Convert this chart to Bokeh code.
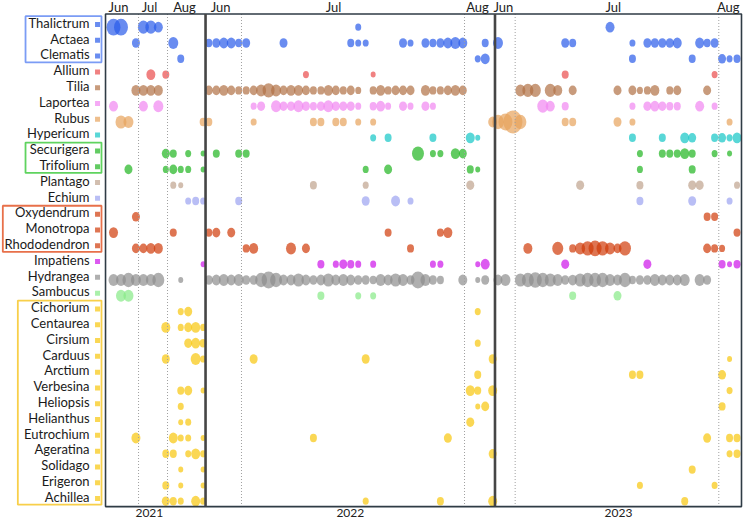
from bokeh.plotting import figure
from bokeh.models import Range1d, ColumnDataSource
from bokeh.core.properties import value
from bokeh.embed import file_html
from bokeh.resources import INLINE

# ---------------------------------------------------------------------------
# Data: pollen genera (top to bottom) and, per season, the sampling slot in
# which each genus was recorded together with its relative abundance.
# ---------------------------------------------------------------------------
genera = ["Thalictrum", "Actaea", "Clematis", "Allium", "Tilia", "Laportea", "Rubus",
          "Hypericum", "Securigera", "Trifolium", "Plantago", "Echium", "Oxydendrum",
          "Monotropa", "Rhododendron", "Impatiens", "Hydrangea", "Sambucus", "Cichorium",
          "Centaurea", "Cirsium", "Carduus", "Arctium", "Verbesina", "Heliopsis",
          "Helianthus", "Eutrochium", "Ageratina", "Solidago", "Erigeron", "Achillea"]

years = ["2021", "2022", "2023"]

obs_2021 = {
    "Thalictrum": ([0, 1, 4, 5, 6], [14, 14, 11, 11, 9]),
    "Actaea": ([3, 8], [8, 10]),
    "Clematis": ([9], [7]),
    "Allium": ([5, 7], [9, 7]),
    "Tilia": ([3, 4, 5, 6], [9, 9, 9, 9]),
    "Laportea": ([0, 4, 6], [9, 9, 10]),
    "Rubus": ([1, 2, 12], [11, 10, 7]),
    "Securigera": ([7, 8, 10, 12], [8, 7, 6, 5]),
    "Trifolium": ([2, 7, 8, 9, 10, 12], [8, 6, 8, 6, 6, 5]),
    "Plantago": ([8, 9], [6, 5]),
    "Echium": ([10, 11, 12], [6, 7, 6]),
    "Oxydendrum": ([3], [8]),
    "Monotropa": ([0, 8], [9, 7]),
    "Rhododendron": ([3, 4, 5, 6], [8, 8, 9, 9]),
    "Impatiens": ([12], [5]),
    "Hydrangea": ([0, 1, 2, 3, 4, 5, 6, 9], [10, 10, 12, 10, 10, 10, 12, 5]),
    "Sambucus": ([1, 2], [10, 10]),
    "Cichorium": ([9, 10], [6, 8]),
    "Centaurea": ([7, 9, 10, 11, 12], [9, 6, 8, 9, 6]),
    "Cirsium": ([10, 11, 12], [8, 9, 7]),
    "Carduus": ([7, 11, 12], [8, 10, 6]),
    "Verbesina": ([9, 10, 12], [7, 8, 5]),
    "Heliopsis": ([9], [6]),
    "Helianthus": ([9, 10], [5, 6]),
    "Eutrochium": ([3, 8, 9, 10, 12], [9, 9, 6, 6, 5]),
    "Ageratina": ([7, 8, 10, 11, 12], [7, 7, 6, 9, 6]),
    "Solidago": ([9, 12], [5, 5]),
    "Erigeron": ([7, 9, 12], [7, 5, 5]),
    "Achillea": ([7, 8, 9, 11, 12], [8, 7, 6, 9, 6]),
}

obs_2022 = {
    "Thalictrum": ([20], [6]),
    "Actaea": ([0, 1, 2, 3, 4, 5, 10, 19, 20, 21, 26, 27, 29, 30, 31, 32, 33, 34, 37],
               [7, 8, 9, 9, 7, 8, 8, 7, 6, 6, 8, 6, 8, 7, 8, 9, 10, 9, 7]),
    "Clematis": ([36, 37], [6, 9]),
    "Allium": ([13, 22], [6, 5]),
    "Tilia": (list(range(0, 21)) + list(range(22, 28)) + list(range(29, 35)),
              [8, 8, 9, 8, 7, 7, 8, 10, 12, 10, 8, 9, 9, 8, 7, 7, 9, 8, 7, 8, 6,
               7, 9, 7, 8, 8, 8,
               9, 7, 7, 8, 9, 8]),
    "Laportea": ([6, 7, 9, 10, 11, 12, 13, 14, 15, 16, 17, 18, 19, 20, 22, 23, 24, 26, 27, 29, 30],
                 [6, 8, 10, 8, 8, 10, 8, 7, 8, 10, 8, 8, 8, 6, 7, 9, 6, 8, 6, 8, 6]),
    "Rubus": ([0, 6, 14, 15, 17, 18, 20, 22, 38], [7, 6, 7, 7, 7, 7, 6, 6, 9]),
    "Hypericum": ([22, 24, 30, 35, 36], [6, 7, 7, 9, 5]),
    "Securigera": ([1, 4, 5, 28, 30, 31, 33, 34], [7, 7, 7, 12, 6, 6, 9, 8]),
    "Trifolium": ([21, 24, 35, 36], [6, 8, 7, 5]),
    "Plantago": ([14, 21, 35], [7, 6, 8]),
    "Echium": ([4, 21, 25, 27], [7, 8, 9, 6]),
    "Monotropa": ([0, 1, 3, 24, 31, 32], [7, 8, 8, 7, 7, 9]),
    "Rhododendron": ([5, 6, 11, 13, 27], [7, 9, 10, 8, 7]),
    "Impatiens": ([15, 17, 18, 19, 20, 22, 30, 31, 36, 37], [7, 6, 8, 7, 6, 6, 6, 6, 5, 9]),
    "Hydrangea": (list(range(0, 32)) + [34, 36, 37],
                  [8, 9, 10, 9, 10, 8, 8, 12, 14, 12, 9, 9, 11, 9, 8, 9, 11, 9, 10, 9,
                   8, 8, 7, 10, 9, 11, 10, 8, 14, 10, 8, 7, 9, 5, 8]),
    "Sambucus": ([15, 20, 22], [7, 6, 6]),
    "Cichorium": ([36], [6]),
    "Cirsium": ([36], [6]),
    "Carduus": ([6, 21, 38], [8, 8, 8]),
    "Arctium": ([36], [7]),
    "Verbesina": ([35, 36, 38], [9, 7, 9]),
    "Heliopsis": ([36, 37], [5, 8]),
    "Helianthus": ([35], [8]),
    "Eutrochium": ([14, 32], [7, 8]),
    "Ageratina": ([38], [8]),
    "Achillea": ([21, 31, 38], [6, 7, 9]),
}

obs_2023 = {
    "Thalictrum": ([15], [9]),
    "Actaea": ([0, 9, 10, 18, 20, 21, 22, 23, 24, 27, 28, 29], [10, 8, 7, 6, 8, 8, 8, 8, 9, 9, 7, 8]),
    "Clematis": ([18, 26, 30, 31, 32], [7, 7, 8, 6, 7]),
    "Allium": ([9, 29], [7, 6]),
    "Tilia": ([3, 4, 5, 7, 8, 10, 16, 18, 19, 20, 21, 23, 24, 28],
              [10, 11, 11, 11, 9, 8, 8, 8, 6, 7, 9, 7, 8, 8]),
    "Laportea": ([6, 7, 9, 18, 20, 21, 22, 23, 24, 27, 29], [11, 9, 7, 6, 8, 9, 8, 7, 7, 9, 6]),
    "Rubus": ([0, 1, 2, 3, 9, 10, 16, 18, 31], [12, 14, 19, 12, 7, 7, 8, 6, 6]),
    "Hypericum": ([18, 22, 25, 26, 29, 30, 31, 32], [7, 7, 9, 8, 7, 8, 6, 9]),
    "Securigera": ([19, 22, 23, 24, 25, 26, 29, 31], [6, 7, 7, 7, 9, 7, 6, 5]),
    "Trifolium": ([19, 26], [6, 7]),
    "Plantago": ([11, 19, 26, 27, 32], [8, 7, 8, 8, 6]),
    "Echium": ([19, 26, 31], [7, 8, 6]),
    "Oxydendrum": ([28, 29], [7, 7]),
    "Monotropa": ([32], [7]),
    "Rhododendron": ([4, 8, 10, 11, 12, 13, 14, 15, 16, 17, 28, 29, 30],
                     [9, 11, 7, 10, 12, 13, 12, 10, 8, 12, 8, 7, 6]),
    "Impatiens": ([9, 20, 30, 31, 32], [8, 8, 7, 5, 7]),
    "Hydrangea": ([0, 1] + list(range(3, 26)) + [27, 28],
                  [9, 10, 11, 12, 13, 12, 11, 10, 8, 9, 11, 12, 12, 12, 10, 9, 12, 7, 8, 8,
                   10, 9, 9, 9, 10, 10, 8]),
    "Sambucus": ([10, 16], [7, 8]),
    "Carduus": ([31], [5]),
    "Arctium": ([18, 19, 30], [7, 7, 8]),
    "Verbesina": ([31], [6]),
    "Heliopsis": ([30], [7]),
    "Eutrochium": ([28, 31, 32], [8, 7, 7]),
    "Ageratina": ([31, 32], [6, 7]),
    "Solidago": ([26], [7]),
    "Erigeron": ([19, 29], [6, 6]),
    "Achillea": ([25], [7]),
}

# month boundaries (1 Jul, 1 Aug) and month-label positions, in sampling slots
month_breaks = {"2021": [3.35, 7.23], "2022": [4.37, 34.23], "2023": [2.3, 29.56]}
month_names = ["Jun", "Jul", "Aug"]
month_label_pos = {"2021": [0.67, 4.82, 9.5], "2022": [1.57, 16.69, 35.97],
                   "2023": [0.73, 15.43, 30.83]}

# ---------------------------------------------------------------------------
# Layout / style
# ---------------------------------------------------------------------------
panel_offset = {"2021": 0.0, "2022": 12.76, "2023": 51.47}
panel_edges = [-1.07, 12.32, 51.07, 84.07]
year_label_x = [4.8, 31.7, 67.6]
frame_top, frame_bottom = -0.835, 30.34
TEXT_LIFT = 0.28   # raises text baselines slightly above the row centres

blue, green, orange, yellow = "#295bea", "#1fb51f", "#d03a08", "#f8c60c"
genus_color = {
    "Thalictrum": blue, "Actaea": blue, "Clematis": blue,
    "Allium": "#ea4c4c", "Tilia": "#b07045", "Laportea": "#f186f1",
    "Rubus": "#e7a25b", "Hypericum": "#13c6c6",
    "Securigera": green, "Trifolium": green,
    "Plantago": "#bfa28d", "Echium": "#9ba2f1",
    "Oxydendrum": orange, "Monotropa": orange, "Rhododendron": orange,
    "Impatiens": "#cd13ea", "Hydrangea": "#8d8d8d", "Sambucus": "#86ea86",
}
for g in genera[18:]:
    genus_color[g] = yellow
ALPHA = 0.7

groups = [
    ("Thalictrum", "Clematis", -11.78, "#7b9cf5"),
    ("Securigera", "Trifolium", -11.78, "#5fd35f"),
    ("Oxydendrum", "Rhododendron", -14.82, "#e8704a"),
    ("Cichorium", "Achillea", -12.81, "#f8cf4a"),
]

FONT = value("Lato")
row = {g: i for i, g in enumerate(genera)}

p = figure(width=746, height=520, x_range=Range1d(-15.13, 84.74),
           y_range=Range1d(31.22, -1.69), output_backend="svg", toolbar_location=None,
           x_axis_location=None, y_axis_location=None, min_border=0)
p.grid.visible = False
p.outline_line_color = None

# bubbles
xs, ys, ws, hs, cs = [], [], [], [], []
for yr, obs in zip(years, [obs_2021, obs_2022, obs_2023]):
    for genus, (slots, sizes) in obs.items():
        for s, a in zip(slots, sizes):
            xs.append(panel_offset[yr] + s)
            ys.append(row[genus])
            ws.append(a)
            hs.append(a * 1.2)
            cs.append(genus_color[genus])
src = ColumnDataSource(dict(x=xs, y=ys, w=ws, h=hs, c=cs))
p.ellipse(x="x", y="y", width="w", height="h", width_units="screen", height_units="screen",
          source=src, fill_color="c", fill_alpha=ALPHA, line_color=None)

# month boundaries
mx = [panel_offset[yr] + b for yr in years for b in month_breaks[yr]]
p.segment(x0=mx, x1=mx, y0=[frame_top] * len(mx), y1=[frame_bottom] * len(mx),
          line_color="#a0a0a0", line_width=1, line_dash="1 2")

# panel frame and year separators
p.quad(left=[panel_edges[0]], right=[panel_edges[-1]], top=[frame_top], bottom=[frame_bottom],
       fill_color=None, line_color="#2f3b45", line_width=1.6)
p.segment(x0=panel_edges[1:3], x1=panel_edges[1:3], y0=[frame_top] * 2, y1=[frame_bottom] * 2,
          line_color="#454545", line_width=2.6)

# month labels above, year labels below
tx, tt = [], []
for yr in years:
    for pos, name in zip(month_label_pos[yr], month_names):
        tx.append(panel_offset[yr] + pos)
        tt.append(name)
p.text(x=tx, y=[-1.03 - TEXT_LIFT] * len(tx), text=tt, text_align="center",
       text_baseline="alphabetic", text_font=FONT, text_font_size="13px", text_color="#222222")
p.text(x=year_label_x, y=[30.98] * 3, text=years, text_align="center",
       text_baseline="bottom", text_font=FONT, text_font_size="12px", text_color="#222222")

# genus labels with colour keys
rows = list(range(len(genera)))
p.text(x=[-3.21] * len(genera), y=[r - TEXT_LIFT for r in rows], text=genera, text_align="right",
       text_baseline="alphabetic", text_font=FONT, text_font_size="13px", text_color="#1a1a1a")
p.scatter(x=[-2.14] * len(genera), y=[r - 0.17 for r in rows], marker="square", size=5,
          fill_color=[genus_color[g] for g in genera], fill_alpha=ALPHA, line_color=None)

# boxes around related genera
for first, last, left, col in groups:
    p.quad(left=[left], right=[-1.61], top=[row[first] - 0.7], bottom=[row[last] + 0.22],
           fill_color=None, line_color=col, line_width=1.8)

open("out.html", "w").write(file_html(p, INLINE))
